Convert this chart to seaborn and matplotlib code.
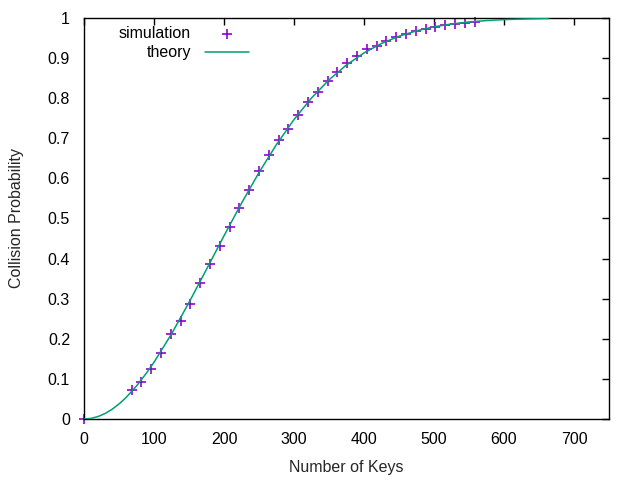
import matplotlib
matplotlib.use("Agg")
import matplotlib.pyplot as plt
import seaborn as sns
import pandas as pd
from matplotlib.ticker import FuncFormatter, MultipleLocator

# simulation points
sim_keys = [0, 68, 82, 96, 110, 124, 138, 152, 166, 180, 194, 208, 222, 236,
            250, 264, 278, 292, 306, 320, 334, 348, 362, 376, 390, 404, 418,
            432, 446, 460, 474, 488, 502, 516, 530, 544, 558]
sim_prob = [0.0, 0.072, 0.092, 0.125, 0.165, 0.212, 0.245, 0.288, 0.338, 0.387,
            0.432, 0.480, 0.527, 0.570, 0.618, 0.658, 0.697, 0.722, 0.758, 0.790,
            0.815, 0.843, 0.865, 0.888, 0.905, 0.922, 0.930, 0.942, 0.953, 0.960,
            0.968, 0.972, 0.978, 0.983, 0.986, 0.988, 0.991]

# theory curve
theory_keys = [0, 10, 20, 30, 40, 50, 60, 75, 90, 100, 125, 150, 175, 200, 225,
               250, 275, 300, 325, 350, 375, 400, 425, 450, 475, 500, 525, 550,
               575, 600, 625, 650, 663]
theory_prob = [0.0, 0.0015, 0.0061, 0.0136, 0.0241, 0.0374, 0.0534, 0.0823,
               0.1163, 0.1415, 0.2121, 0.2906, 0.3733, 0.4568, 0.5381, 0.6147,
               0.6846, 0.7468, 0.8005, 0.8457, 0.8830, 0.9129, 0.9365, 0.9545,
               0.9680, 0.9780, 0.9851, 0.9901, 0.9936, 0.9959, 0.9974, 0.9984,
               0.9988]

x_ticks = [0, 100, 200, 300, 400, 500, 600, 700]

sns.set_theme(style="white")
plt.rcParams['font.family'] = ['Liberation Sans', 'DejaVu Sans']
FS = 11.5

sim_df = pd.DataFrame({"keys": sim_keys, "prob": sim_prob})
th_df = pd.DataFrame({"keys": theory_keys, "prob": theory_prob})

fig = plt.figure(figsize=(6.4, 4.8), dpi=100)
ax = fig.add_axes([84/640, 61/480, (609-84)/640, (419-18)/480])

sns.scatterplot(data=sim_df, x="keys", y="prob", ax=ax, color="#9400D3",
                marker="+", s=45, linewidth=1.2, label="simulation",
                clip_on=False, zorder=2)
sns.lineplot(data=th_df, x="keys", y="prob", ax=ax, color="#009E73",
             linewidth=1.1, label="theory", zorder=3)

ax.set_xlim(0, 750)
ax.set_ylim(0, 1)
ax.set_xticks(x_ticks)
ax.yaxis.set_major_locator(MultipleLocator(0.1))
ax.yaxis.set_major_formatter(FuncFormatter(lambda v, p: "%g" % round(v, 2)))
ax.tick_params(direction="in", length=5, width=1, colors="black",
               top=True, right=True, labelsize=FS)
ax.tick_params(axis="x", pad=9)
ax.tick_params(axis="y", pad=10)
for s in ax.spines.values():
    s.set_color("black")
    s.set_linewidth(1)
ax.set_xlabel("Number of Keys", fontsize=FS, labelpad=10)
ax.set_ylabel("Collision Probability", fontsize=FS, labelpad=17)

leg = ax.legend(loc="upper left", bbox_to_anchor=(0.045, 1.007), frameon=False,
                markerfirst=False, fontsize=FS, handlelength=2.8,
                handletextpad=0.85, labelspacing=0.25, borderaxespad=0.3)
for t in leg.get_texts():
    t.set_color("black")

fig.savefig("out.png", dpi=100)
